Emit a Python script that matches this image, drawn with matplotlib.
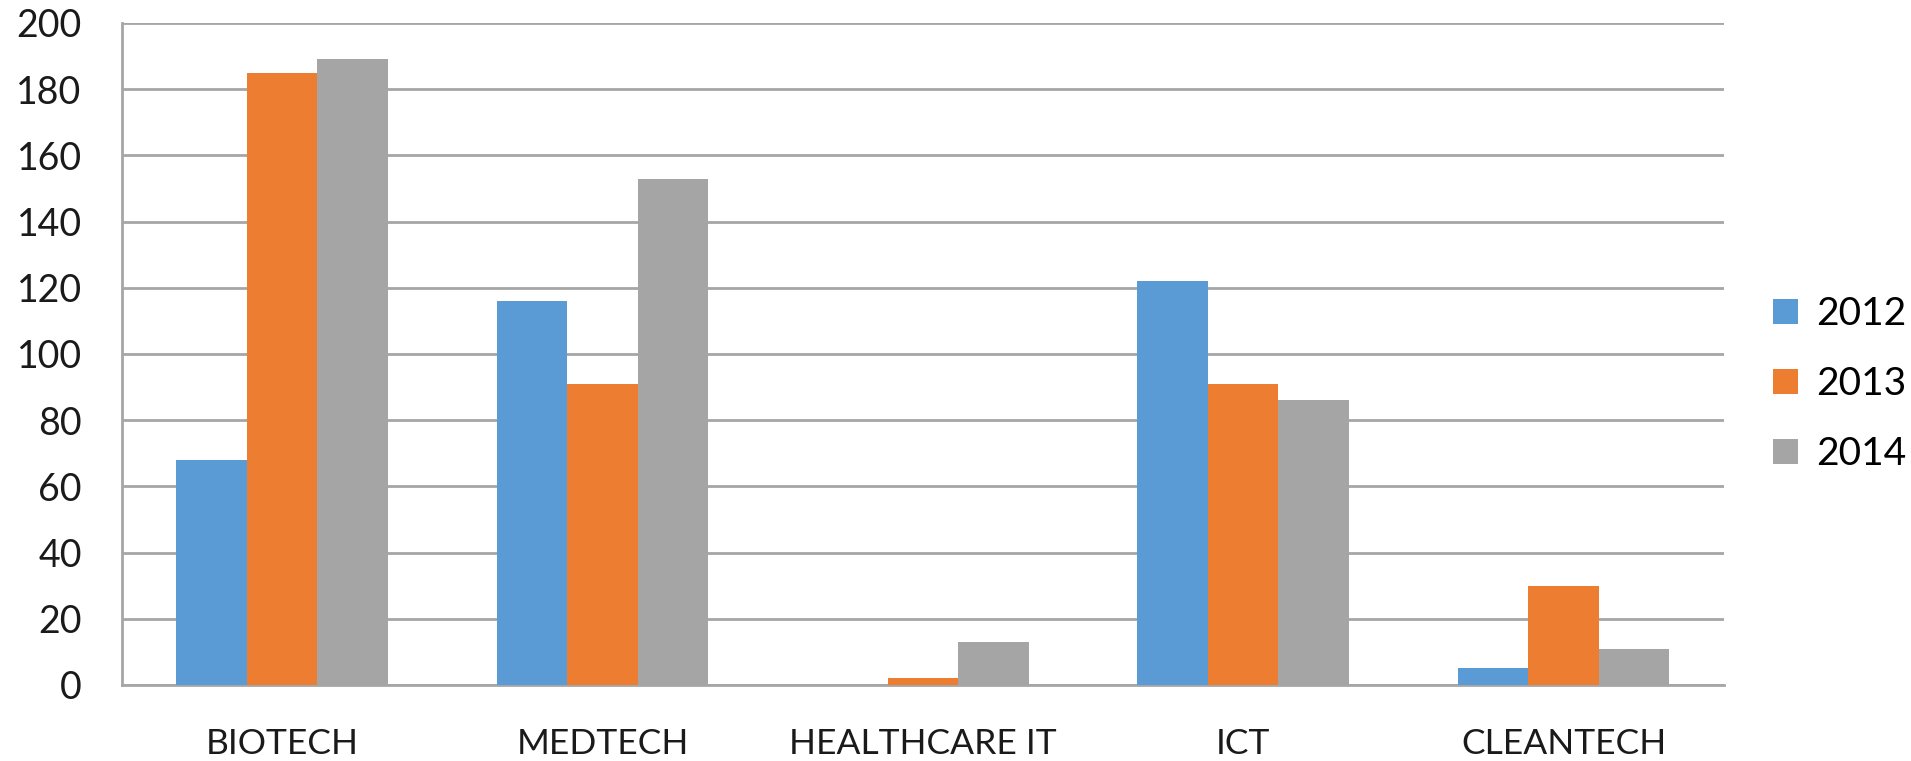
import numpy as np
import matplotlib
matplotlib.use("Agg")
import matplotlib.pyplot as plt
from matplotlib.patches import Patch

plt.rcParams['font.family'] = ['Lato', 'DejaVu Sans']

categories = ["BIOTECH", "MEDTECH", "HEALTHCARE IT", "ICT", "CLEANTECH"]
years = ["2012", "2013", "2014"]
v2012 = [68, 116, 0, 122, 5]
v2013 = [185, 91, 2, 91, 30]
v2014 = [189, 153, 13, 86, 11]
colors = ["#5B9BD5", "#ED7D31", "#A5A5A5"]

fig = plt.figure(figsize=(19.11, 7.61), dpi=100)
ax = fig.add_axes([0.0638, 0.0999, 0.8382, 0.8699])

x = np.arange(len(categories))
w = 0.22
for i, (vals, c) in enumerate(zip([v2012, v2013, v2014], colors)):
    ax.bar(x + (i - 1) * w, vals, width=w, color=c, zorder=3)

ax.set_xlim(-0.5, len(categories) - 0.5)
ax.set_ylim(0, 200)
ax.set_yticks(range(0, 201, 20))
ax.set_xticks(x)
ax.set_xticklabels(categories)
ax.yaxis.grid(True, color="#A6A6A6", linewidth=2, zorder=0)
ax.tick_params(axis="both", length=0, colors="#1a1a1a")
ax.tick_params(axis="y", pad=29, labelsize=27)
ax.tick_params(axis="x", pad=31, labelsize=25.5)
for s in ["top", "right"]:
    ax.spines[s].set_visible(False)
ax.spines["left"].set_color("#A6A6A6")
ax.spines["left"].set_linewidth(2)
ax.spines["bottom"].set_color("#A6A6A6")
ax.spines["bottom"].set_linewidth(2)

handles = [Patch(facecolor=c, label=y) for c, y in zip(colors, years)]
fig.legend(handles=handles, loc="center left", bbox_to_anchor=(0.928, 0.495),
           frameon=False, fontsize=28, handlelength=0.62, handleheight=0.62,
           handletextpad=0.49, labelspacing=0.87, borderpad=0, borderaxespad=0)

fig.savefig("out.png", dpi=100)
